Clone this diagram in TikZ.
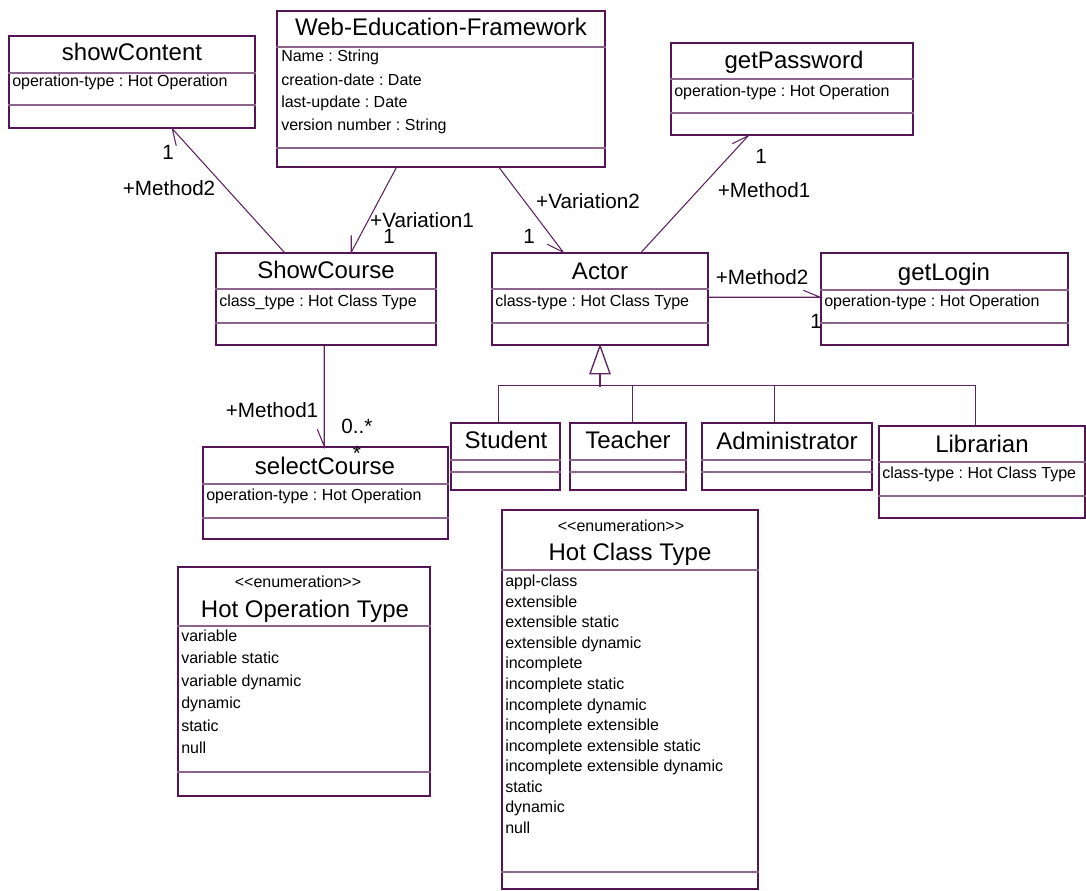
\documentclass[tikz,border=0pt]{standalone}
\usepackage{fontspec}
\setmainfont{Liberation Sans}
\usetikzlibrary{fit,calc}
\frenchspacing
\definecolor{umlline}{RGB}{85,20,85}
\definecolor{umlsep}{RGB}{140,100,140}
\definecolor{umlconn}{RGB}{95,35,95}
\tikzset{
  classbox/.style={draw=umlline, line width=1.1pt, inner sep=0pt},
  sepline/.style={draw=umlsep, line width=1pt},
  conn/.style={draw=umlconn, line width=0.8pt},
  ctitle/.style={font=\fontsize{18}{20}\selectfont, anchor=mid, inner sep=0pt, yshift=-1.6pt},
  attr/.style={font=\fontsize{12}{14}\selectfont, anchor=mid west, inner sep=0pt},
  stereo/.style={font=\fontsize{12}{14}\selectfont, anchor=mid, inner sep=0pt},
  lbl/.style={font=\fontsize{15.5}{17}\selectfont, anchor=mid, inner sep=0pt, yshift=-1.2pt},
}
\newcommand{\umlbox}[7]{%
  \node[classbox, fit={(#2,#3) (#4,#5)}] (#1) {};
  \draw[sepline] (#1.west |- 0,#6) -- (#1.east |- 0,#6);
  \draw[sepline] (#1.west |- 0,#7) -- (#1.east |- 0,#7);
}
\begin{document}
\begin{tikzpicture}[x=0.75pt,y=-0.75pt]
\useasboundingbox (0,0) rectangle (1086,891);

% class boxes
\umlbox{showContent}{9}{36}{255}{128}{73}{105}
\umlbox{wef}{277}{11}{605}{167}{47}{148}
\umlbox{getPassword}{671}{43}{913}{135}{79}{113}
\umlbox{sc}{216}{253}{436}{345}{289}{323}
\umlbox{actor}{492}{253}{708}{345}{289}{323}
\umlbox{getLogin}{821}{253}{1068}{345}{290}{323}
\umlbox{selectCourse}{203}{447}{448}{539}{484}{518}
\umlbox{student}{451}{423}{560}{490}{460}{472}
\umlbox{teacher}{570}{423}{686}{490}{460}{472}
\umlbox{admin}{702}{423}{872}{490}{460}{472}
\umlbox{librarian}{879}{426}{1085}{518}{462}{496}
\umlbox{hot}{178}{567}{430}{796}{626}{772}
\umlbox{hct}{502}{510}{758}{889}{570}{872}

% titles
\node[ctitle] (t1) at (132,55) {showContent};
\node[ctitle] (t2) at (441,30) {Web-Education-Framework};
\node[ctitle] (t3) at (794,63) {getPassword};
\node[ctitle] (t4) at (326,273) {ShowCourse};
\node[ctitle] (t5) at (600,274) {Actor};
\node[ctitle] (t6) at (944,275) {getLogin};
\node[ctitle] (t7) at (325,469) {selectCourse};
\node[ctitle] (t8) at (506,443) {Student};
\node[ctitle] (t9) at (628,443) {Teacher};
\node[ctitle] (t10) at (787,444) {Administrator};
\node[ctitle] (t11) at (982,447) {Librarian};
\node[stereo] (s1) at (298,584) {<{}<enumeration>{}>};
\node[ctitle] (t12) at (305,612) {Hot Operation Type};
\node[stereo] (s2) at (621,528) {<{}<enumeration>{}>};
\node[ctitle] (t13) at (630,555) {Hot Class Type};

% attributes
\node[attr] (a1) at (12,83) {operation-type : Hot Operation};
\node[attr] (a2) at (281,58) {Name : String};
\node[attr] (a3) at (281,82) {creation-date : Date};
\node[attr] (a4) at (281,104) {last-update : Date};
\node[attr] (a5) at (281,127) {version number : String};
\node[attr] (a6) at (674,93) {operation-type : Hot Operation};
\node[attr] (a7) at (219,303) {class\_type : Hot Class Type};
\node[attr] (a8) at (495,303) {class-type : Hot Class Type};
\node[attr] (a9) at (824,303) {operation-type : Hot Operation};
\node[attr] (a10) at (206,497) {operation-type : Hot Operation};
\node[attr] (a11) at (882,475) {class-type : Hot Class Type};
\foreach \t [count=\i from 0] in {variable, variable static, variable dynamic, dynamic, static, null}
  \node[attr] (ho\i) at (181,638+22.4*\i) {\t};
\foreach \t [count=\i from 0] in {appl-class, extensible, extensible static, extensible dynamic, incomplete, incomplete static, incomplete dynamic, incomplete extensible, incomplete extensible static, incomplete extensible dynamic, static, dynamic, null}
  \node[attr] (hc\i) at (505,583+20.58*\i) {\t};

% associations
\draw[conn] ($(sc.north west)+(69,0)$) -- ($(showContent.south west)+(164,0)$) -- ++(4,17);
\draw[conn] ($(wef.south west)+(120,0)$) -- ($(sc.north west)+(136,0)$) -- ++(0,-17);
\draw[conn] ($(wef.south west)+(223,0)$) -- ($(actor.north west)+(72,0)$) -- ++(-16,-8);
\draw[conn] ($(actor.north west)+(150,0)$) -- ($(getPassword.south west)+(78,0)$) -- ++(-16,8);
\draw[conn] ($(actor.north east)+(0,45)$) -- ($(getLogin.north west)+(0,45)$) -- ++(-17,-7);
\draw[conn] ($(sc.south west)+(109,0)$) -- ($(selectCourse.north west)+(122,0)$) -- ++(-7,-17);

% generalization
\draw[conn, line width=1pt, fill=white] (actor.south) -- ++(-10,28) -- ++(20,0) -- cycle;
\draw[conn, line width=1pt] ($(actor.south)+(0,28)$) -- ($(actor.south)+(0,41)$);
\draw[conn, line width=1pt] ($(student.north west)+(48,0)$) -- ++(0,-37) -| ($(librarian.north west)+(97,0)$);
\draw[conn, line width=1pt] ($(teacher.north west)+(63,0)$) -- ++(0,-37);
\draw[conn, line width=1pt] ($(admin.north west)+(73,0)$) -- ++(0,-37);

% labels
\node[lbl] (l1) at (168,154) {1};
\node[lbl] (l2) at (169,190) {+Method2};
\node[lbl] (l3) at (422,222) {+Variation1};
\node[lbl] (l4) at (389,238) {1};
\node[lbl] (l5) at (588,203) {+Variation2};
\node[lbl] (l6) at (529,238) {1};
\node[lbl] (l7) at (761,158) {1};
\node[lbl] (l8) at (764,192) {+Method1};
\node[lbl] (l9) at (762,279) {+Method2};
\node[lbl] (l10) at (816,323) {1};
\node[lbl] (l11) at (272,412) {+Method1};
\node[lbl] (l12) at (357,428) {0..*};
\node[lbl] (l13) at (357,455) {*};
\end{tikzpicture}
\end{document}
